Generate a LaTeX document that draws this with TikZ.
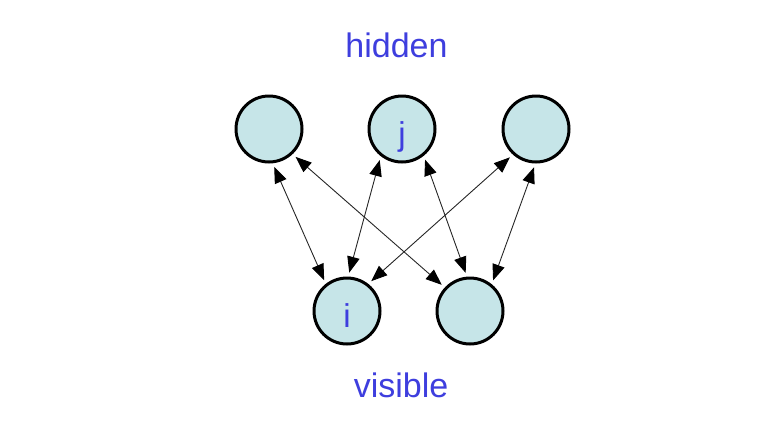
\documentclass[tikz,border=0pt]{standalone}
\usepackage{fontspec}
\setmainfont{Liberation Sans}
\usepackage{tikz}
\usetikzlibrary{arrows.meta}
\definecolor{unitfill}{RGB}{198,229,232}
\definecolor{labelblue}{RGB}{62,62,222}

\begin{document}
\begin{tikzpicture}[x=1pt,y=1pt,yscale=-1,xscale=1,
  unit/.style={circle,draw=black,line width=3pt,fill=unitfill,minimum size=66pt,inner sep=0pt,text height=33pt,text depth=0pt,text=labelblue,font=\fontsize{33}{38}\selectfont},
  layer/.style={text=labelblue,font=\fontsize{34}{40}\selectfont,anchor=base},
  weight/.style={draw=black!85,line width=0.9pt,{Triangle[length=16pt,width=12.5pt,color=black]}-{Triangle[length=16pt,width=12.5pt,color=black]},shorten >=4pt,shorten <=4pt}]
\path[use as bounding box] (0,0) rectangle (763,421);

%Text: layer names
\node[layer] (hidlbl) at (396.5,57) {hidden};
\node[layer] (vislbl) at (401,397) {visible};

%Shape: Circle, hidden units
\node[unit] (hl) at (269,129) {};
\node[unit] (hj) at (402,129) {j};
\node[unit] (hr) at (536,129) {};

%Shape: Circle, visible units
\node[unit] (vi) at (347,311) {i};
\node[unit] (vr) at (470,311) {};

%Straight Lines, symmetric weights
\draw[weight] (hl.-84) -- (vi.128);
\draw[weight] (hl.-47) -- (vr.137);
\draw[weight] (hj.232) -- (vi.88);
\draw[weight] (hj.-51) -- (vr.95);
\draw[weight] (hr.228) -- (vi.52);
\draw[weight] (hr.-91) -- (vr.51);

\end{tikzpicture}
\end{document}
